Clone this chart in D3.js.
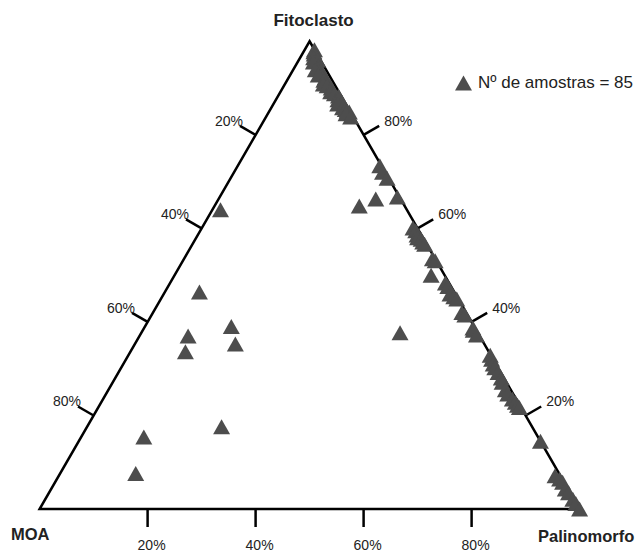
<!DOCTYPE html>
<html>
<head>
<meta charset="utf-8">
<script src="https://cdn.jsdelivr.net/npm/d3@7"></script>
<style>
  html, body { margin: 0; padding: 0; background: #fff; }
  svg { display: block; font-family: Arial, "Liberation Sans", sans-serif; }
</style>
</head>
<body>
<div id="chart"></div>
<script>
// composição (%) de cada amostra: Fitoclasto / MOA / Palinomorfo
const fitoclasto = [
  64.0, 46.4, 37.0, 33.6, 39.0, 35.3, 15.4, 7.6, 17.6, 37.7, 64.8, 66.3,
  98.2, 97.8, 97.3, 96.5, 96.0, 95.6, 94.7, 94.2, 93.9, 92.8, 92.2, 91.7, 90.9, 90.5,
  90.0, 89.2, 88.8, 88.3, 87.5, 87.0, 86.6, 85.8, 85.4, 85.1, 84.9, 84.5, 83.8,
  73.4, 72.0, 70.7, 66.7,
  60.1, 59.5, 58.6, 58.0, 57.7, 57.1, 56.6, 53.5, 53.1, 50.0, 48.3, 47.6, 46.0, 45.4,
  44.9, 42.0, 41.5, 38.7, 38.2, 37.2,
  32.9, 32.0, 31.0, 30.2, 29.2, 28.0, 27.1, 25.5, 24.6, 23.5, 22.8, 22.2, 21.7,
  14.5, 7.1, 6.4, 5.7, 4.3, 3.5, 2.1, 1.2, 0.0
];
const moa = [
  34.5, 47.2, 54.0, 56.2, 45.0, 46.1, 73.0, 78.4, 57.5, 14.4, 8.4, 4.6,
  0.0, 0.3, 0.5, 1.0, 0.5, 1.5, 1.0, 1.5, 2.0, 2.0, 1.0, 1.5, 2.0, 1.5,
  1.0, 1.5, 1.0, 0.5, 1.0, 0.5, 1.5, 1.0, 0.7, 0.5, 0.2, 1.0, 0.5,
  0.3, 0.5, 0.3, 0.4,
  0.8, 0.6, 0.8, 1.0, 0.5, 0.5, 0.4, 0.5, 0.2, 2.5, 0.7, 0.6, 1.0, 0.6,
  0.3, 0.8, 0.5, 0.4, 0.6, 0.5,
  0.1, 0.3, 0.5, 0.6, 0.5, 0.5, 0.8, 1.0, 1.0, 0.7, 0.5, 0.4, 0.3,
  0.0, 1.0, 0.5, 0.3, 0.5, 0.3, 0.2, 0.1, 0.0
];
const palinomorfo = [
  1.5, 6.4, 9.0, 10.2, 16.0, 18.6, 11.6, 14.0, 24.9, 47.9, 26.8, 29.1,
  1.8, 1.9, 2.2, 2.5, 3.5, 2.9, 4.3, 4.3, 4.1, 5.2, 6.8, 6.8, 7.1, 8.0,
  9.0, 9.3, 10.2, 11.2, 11.5, 12.5, 11.9, 13.2, 13.9, 14.4, 14.9, 14.5, 15.7,
  26.3, 27.5, 29.0, 32.9,
  39.1, 39.9, 40.6, 41.0, 41.8, 42.4, 43.0, 46.0, 46.7, 47.5, 51.0, 51.8, 53.0, 54.0,
  54.8, 57.2, 58.0, 60.9, 61.2, 62.3,
  67.0, 67.7, 68.5, 69.2, 70.3, 71.5, 72.1, 73.5, 74.4, 75.8, 76.7, 77.4, 78.0,
  85.5, 91.9, 93.1, 94.0, 95.2, 96.2, 97.7, 98.7, 100.0
];
const tickValues = [20, 40, 60, 80];
const vertexLabels = ['Fitoclasto', 'MOA', 'Palinomorfo'];
const legendText = 'Nº de amostras = ' + fitoclasto.length;

const width = 640;
const height = 552;
const side = 540;
const x0 = 39.6;   // vértice MOA
const y0 = 509;    // linha de base
const h = side * Math.sqrt(3) / 2;

const s = d3.scaleLinear().domain([0, 100]).range([0, side]);

// posição a partir das três frações
const project = (f, m, p) => [x0 + s(p) + s(f) / 2, y0 - s(f) * Math.sqrt(3) / 2];

const svg = d3.select('#chart').append('svg').attr('width', width).attr('height', height);

const A = project(0, 100, 0);  // MOA
const B = project(0, 0, 100);  // Palinomorfo
const C = project(100, 0, 0);  // Fitoclasto

svg.append('path')
  .attr('d', `M${A[0]},${A[1]}L${B[0]},${B[1]}L${C[0]},${C[1]}Z`)
  .attr('fill', 'none')
  .attr('stroke', '#000')
  .attr('stroke-width', 2.5)
  .attr('stroke-linejoin', 'miter');

const tickLen = 18;
const axes = [
  // base: Palinomorfo
  { pos: (v) => project(0, 100 - v, v), n: [0, 1], anchor: 'middle', dx: 4, dy: 23 },
  // lado esquerdo: MOA
  { pos: (v) => project(100 - v, v, 0), n: [-Math.sqrt(3) / 2, -0.5], anchor: 'end', dx: 3, dy: 0 },
  // lado direito: Fitoclasto
  { pos: (v) => project(v, 0, 100 - v), n: [Math.sqrt(3) / 2, -0.5], anchor: 'start', dx: 5, dy: 0 },
];

axes.forEach((ax) => {
  const g = svg.append('g');
  tickValues.forEach((v) => {
    const [px, py] = ax.pos(v);
    const ex = px + ax.n[0] * tickLen;
    const ey = py + ax.n[1] * tickLen;
    g.append('line')
      .attr('x1', px).attr('y1', py)
      .attr('x2', ex).attr('y2', ey)
      .attr('stroke', '#000')
      .attr('stroke-width', 2.5);
    g.append('text')
      .attr('x', ex + ax.dx)
      .attr('y', ey + ax.dy)
      .attr('text-anchor', ax.anchor)
      .attr('font-size', 14)
      .attr('fill', '#222')
      .text(v + '%');
  });
});

// rótulos dos vértices
svg.append('text').attr('x', C[0] + 4).attr('y', 26).attr('text-anchor', 'middle')
  .attr('font-size', 17).attr('font-weight', 700).attr('fill', '#222').text(vertexLabels[0]);
svg.append('text').attr('x', 11).attr('y', 540)
  .attr('font-size', 16.5).attr('font-weight', 700).attr('fill', '#222').text(vertexLabels[1]);
svg.append('text').attr('x', 538).attr('y', 542)
  .attr('font-size', 16.5).attr('font-weight', 700).attr('fill', '#222').text(vertexLabels[2]);

const marker = 'M0,-7.5L8.5,7.5L-8.5,7.5Z';
const markerColor = '#4d4d4d';

const samples = fitoclasto.map((f, i) => ({ f, m: moa[i], p: palinomorfo[i] }));

svg.append('g')
  .selectAll('path')
  .data(samples)
  .join('path')
  .attr('d', marker)
  .attr('transform', (d) => {
    const [x, y] = project(d.f, d.m, d.p);
    return `translate(${x},${y})`;
  })
  .attr('fill', markerColor);

// legenda
const legend = svg.append('g').attr('transform', 'translate(463.5,83)');
legend.append('path').attr('d', marker).attr('fill', markerColor);
legend.append('text').attr('x', 14.5).attr('y', 5)
  .attr('font-size', 17).attr('fill', '#222').text(legendText);
</script>
</body>
</html>
